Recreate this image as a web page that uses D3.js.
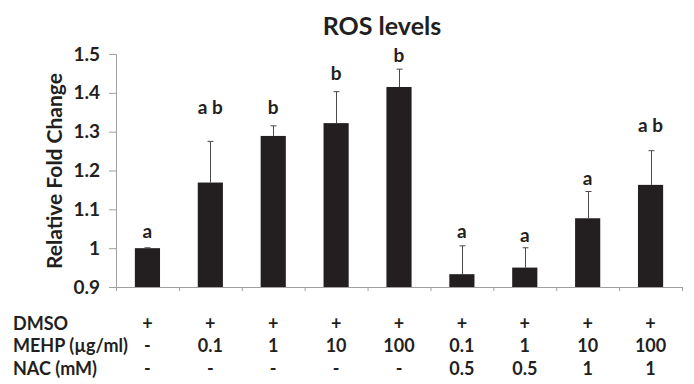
<!DOCTYPE html>
<html>
<head>
<meta charset="utf-8">
<script src="https://cdn.jsdelivr.net/npm/d3@7"></script>
<style>
  html, body { margin: 0; padding: 0; background: #fff; }
  svg { display: block; }
  text { font-family: Lato, "Open Sans", sans-serif; font-weight: bold; fill: #231f20; }
</style>
</head>
<body>
<svg id="chart" width="694" height="384"></svg>
<script>
// ---- data ----
const groups = ["g1", "g2", "g3", "g4", "g5", "g6", "g7", "g8", "g9"];
const values = [1.0, 1.169, 1.289, 1.322, 1.415, 0.933, 0.95, 1.077, 1.163];
const errors = [0.001, 0.106, 0.026, 0.081, 0.046, 0.073, 0.051, 0.069, 0.088];
const letters = ["a", "a b", "b", "b", "b", "a", "a", "a", "a b"];
const letterLevels = [1.026, 1.345, 1.345, 1.433, 1.480, 1.025, 1.016, 1.163, 1.300];
const yTicks = [0.9, 1.0, 1.1, 1.2, 1.3, 1.4, 1.5];
const rowLabels = ["DMSO", "MEHP (µg/ml)", "NAC (mM)"];
const dmso = ["+", "+", "+", "+", "+", "+", "+", "+", "+"];
const mehp = ["-", "0.1", "1", "10", "100", "0.1", "1", "10", "100"];
const nac = ["-", "-", "-", "-", "-", "0.5", "0.5", "1", "1"];
const title = "ROS levels";
const yTitle = "Relative Fold Change";

// ---- layout ----
const svg = d3.select("#chart");
const plotLeft = 116, plotRight = 682, plotTop = 54, plotBottom = 287;

const x = d3.scaleBand().domain(groups).range([plotLeft, plotRight]).paddingInner(0.6).paddingOuter(0.3);
const xEdge = d3.scaleLinear().domain([0, groups.length]).range([plotLeft, plotRight]);
const y = d3.scaleLinear().domain([0.9, 1.5]).range([plotBottom, plotTop]);
const cx = g => x(g) + x.bandwidth() / 2;

// title
svg.append("text").attr("x", 382).attr("y", 35).attr("text-anchor", "middle")
  .style("font-size", "25px").text(title);

// y axis
const yAxis = svg.append("g").attr("transform", `translate(${plotLeft},0)`)
  .call(d3.axisLeft(y).tickValues(yTicks).tickSize(7).tickPadding(9)
    .tickFormat(d => String(+d.toFixed(1))));
yAxis.selectAll("path, line").attr("stroke", "#a0a0a0");
yAxis.selectAll("text").style("font-size", "19px").style("font-family", "Lato, sans-serif")
  .style("font-weight", "bold").attr("fill", "#231f20");

// x axis (category boundaries)
const xAxis = svg.append("g").attr("transform", `translate(0,${plotBottom})`)
  .call(d3.axisBottom(xEdge).tickValues(d3.range(groups.length + 1)).tickSizeInner(4).tickSizeOuter(0).tickFormat(""));
xAxis.selectAll("path, line").attr("stroke", "#a0a0a0");

// y title
svg.append("text").attr("transform", `translate(62,171) rotate(-90)`)
  .attr("text-anchor", "middle").style("font-size", "21px").text(yTitle);

// bars
svg.append("g").selectAll("rect").data(groups).join("rect")
  .attr("x", d => x(d)).attr("width", x.bandwidth())
  .attr("y", (d, i) => y(values[i])).attr("height", (d, i) => y(0.9) - y(values[i]))
  .attr("fill", "#231f20");

// error bars
const eg = svg.append("g").attr("stroke", "#4a4a4a").attr("stroke-width", 1);
groups.forEach((g, i) => {
  const c = Math.round(cx(g)) + 0.5;
  eg.append("line").attr("x1", c).attr("x2", c).attr("y1", y(values[i])).attr("y2", y(values[i] + errors[i]));
  eg.append("line").attr("x1", c - 3).attr("x2", c + 3).attr("y1", y(values[i] + errors[i])).attr("y2", y(values[i] + errors[i]));
});

// significance letters
svg.append("g").selectAll("text").data(groups).join("text")
  .attr("x", d => cx(d)).attr("y", (d, i) => y(letterLevels[i]))
  .attr("text-anchor", "middle").style("font-size", "19px")
  .text((d, i) => letters[i]);

// treatment table
const rows = [dmso, mehp, nac];
const rowY = [330, 352, 375];
rows.forEach((row, r) => {
  svg.append("text").attr("x", 13).attr("y", rowY[r]).style("font-size", "18px").text(rowLabels[r]);
  svg.append("g").selectAll("text").data(groups).join("text")
    .attr("x", d => cx(d)).attr("y", rowY[r]).attr("text-anchor", "middle")
    .style("font-size", "18px").text((d, i) => row[i]);
});
</script>
</body>
</html>
